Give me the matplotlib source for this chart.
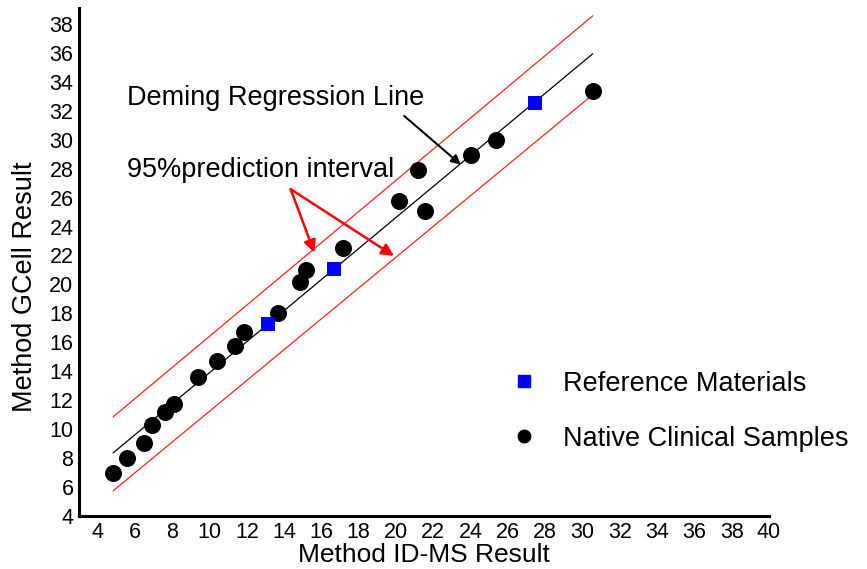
import matplotlib
matplotlib.use("Agg")
import matplotlib.pyplot as plt
from matplotlib.lines import Line2D

plt.rcParams['font.family'] = ['Liberation Sans', 'DejaVu Sans']

# Native clinical samples (x = ID-MS, y = GCell)
native_x = [4.84, 5.57, 6.47, 6.90, 7.61, 8.08, 9.38, 10.40, 11.38, 11.87, 13.65,
            14.85, 15.15, 17.14, 20.18, 21.19, 21.55, 24.00, 25.34, 30.54]
native_y = [6.95, 7.99, 9.02, 10.27, 11.21, 11.76, 13.59, 14.69, 15.77, 16.69, 18.00,
            20.20, 21.00, 22.50, 25.75, 27.90, 25.10, 28.97, 29.98, 33.39]

# Reference materials
ref_x = [13.15, 16.69, 27.45]
ref_y = [17.25, 21.05, 32.52]

# Deming regression line and 95% prediction interval (endpoints)
line_x = [4.84, 30.54]
reg_y = [8.37, 35.93]
upper_y = [10.86, 38.55]
lower_y = [5.75, 33.10]

x_ticks = list(range(4, 41, 2))
y_ticks = list(range(4, 39, 2))

fig = plt.figure(figsize=(8.67, 5.69), dpi=100)
ax = fig.add_axes([79/867, 1-516/569, 690/867, 508/569])

ax.plot(line_x, reg_y, color='black', lw=0.9, zorder=2)
ax.plot(line_x, upper_y, color='#ff2020', lw=0.9, zorder=2)
ax.plot(line_x, lower_y, color='#ff2020', lw=0.9, zorder=2)

ax.scatter(native_x, native_y, s=150, color='black', marker='o', zorder=3, linewidths=0)
ax.scatter(ref_x, ref_y, s=115, color='#0000ff', marker='s', zorder=3, linewidths=0)

ax.set_xlim(3, 40)
ax.set_ylim(4, 39.1)
ax.set_xticks(x_ticks)
ax.set_yticks(y_ticks)
ax.tick_params(length=0, labelsize=15.5, pad=4)
ax.tick_params(axis='x', pad=4.5)
for side in ['top', 'right']:
    ax.spines[side].set_visible(False)
for side in ['left', 'bottom']:
    ax.spines[side].set_linewidth(2.2)

ax.set_xlabel('Method ID-MS Result', fontsize=19, labelpad=0)
ax.set_ylabel('Method GCell Result', fontsize=19.5)
ax.yaxis.set_label_coords(-0.0594, 0.452)

ax.text(5.57, 32.9, 'Deming Regression Line', fontsize=19.5, ha='left', va='center')
ax.annotate('', xy=(23.48, 28.27), xytext=(20.44, 31.64),
            arrowprops=dict(arrowstyle='-|>', color='black', lw=1.5,
                            mutation_scale=14, shrinkA=0, shrinkB=0))

ax.text(5.57, 27.9, '95%prediction interval', fontsize=19.5, ha='left', va='center')
for ex, ey in [(15.62, 22.2), (19.89, 21.97)]:
    ax.annotate('', xy=(ex, ey), xytext=(14.35, 26.58),
                arrowprops=dict(arrowstyle='-|>', color='#ff0000', lw=1.8,
                                mutation_scale=18, shrinkA=0, shrinkB=0))

handles = [Line2D([], [], marker='s', color='#0000ff', linestyle='none', markersize=8),
           Line2D([], [], marker='o', color='black', linestyle='none', markersize=9)]
ax.legend(handles, ['Reference Materials', 'Native Clinical Samples'],
          loc='upper left', bbox_to_anchor=((500-79)/690, 1-(360-8)/508),
          frameon=False, fontsize=19.5, labelspacing=1.07, handletextpad=0.94,
          handlelength=1.0, borderaxespad=0)

fig.savefig('out.png', dpi=100)
